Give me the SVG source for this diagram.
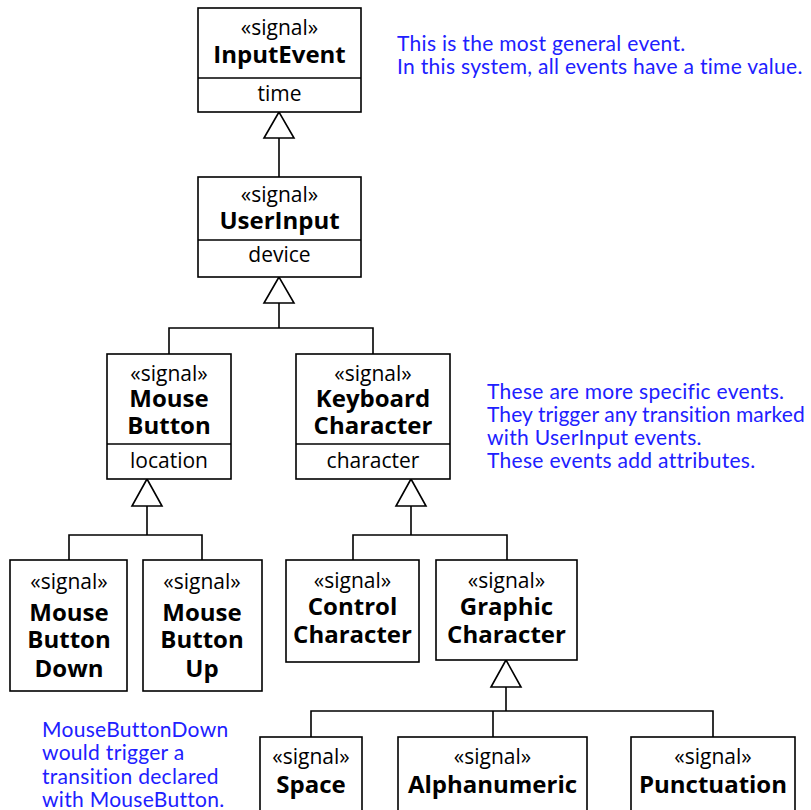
<svg xmlns="http://www.w3.org/2000/svg" width="811" height="810" viewBox="0 0 811 810">
<style>
.box{fill:#fff;stroke:#000;stroke-width:1.6}
.ln{fill:none;stroke:#000;stroke-width:1.6}
.tri{fill:#fff;stroke:#000;stroke-width:1.6}
.st{font-family:"Open Sans","Noto Sans",sans-serif;font-size:21px;text-anchor:middle;fill:#000}
.nm{font-family:"Open Sans","Noto Sans",sans-serif;font-size:24px;font-weight:bold;text-anchor:middle;fill:#000}
.at{font-family:"Open Sans","Noto Sans",sans-serif;font-size:21px;text-anchor:middle;fill:#000}
.note{font-family:Lato,"Liberation Sans",sans-serif;font-size:21px;letter-spacing:0.3px;fill:#2020ff}
</style>
<rect width="811" height="810" fill="#fff"/>
<g id="connectors">
<polygon class="tri" points="279,112 264,138 294,138"/>
<line class="ln" x1="279" y1="138" x2="279" y2="177"/>
<polygon class="tri" points="279,277 264,303 294,303"/>
<polyline class="ln" points="279,303 279,328"/>
<polyline class="ln" points="169,354 169,328 373,328 373,354"/>
<polygon class="tri" points="147,479 132,506 162,506"/>
<polyline class="ln" points="147,506 147,535"/>
<polyline class="ln" points="69,560 69,535 202,535 202,560"/>
<polygon class="tri" points="411,479 396,506 426,506"/>
<polyline class="ln" points="411,506 411,535"/>
<polyline class="ln" points="353,560 353,535 507,535 507,560"/>
<polygon class="tri" points="506,660 491,687 521,687"/>
<polyline class="ln" points="506,687 506,711"/>
<polyline class="ln" points="311,737 311,711 713,711 713,737"/>
<line class="ln" x1="493" y1="711" x2="493" y2="737"/>
</g>
<g id="InputEvent">
<rect class="box" x="198" y="8" width="163" height="104"/>
<line class="ln" x1="198" y1="78" x2="361" y2="78"/>
<text class="st" x="279.5" y="35">«signal»</text>
<text class="nm" x="279.5" y="63">InputEvent</text>
<text class="at" x="279.5" y="101">time</text>
</g>
<g id="UserInput">
<rect class="box" x="198" y="177" width="163" height="100"/>
<line class="ln" x1="198" y1="240" x2="361" y2="240"/>
<text class="st" x="279.5" y="202">«signal»</text>
<text class="nm" x="279.5" y="229">UserInput</text>
<text class="at" x="279.5" y="262">device</text>
</g>
<g id="MouseButton">
<rect class="box" x="107" y="354" width="124" height="125"/>
<line class="ln" x1="107" y1="444" x2="231" y2="444"/>
<text class="st" x="169" y="381">«signal»</text>
<text class="nm" x="169" y="407">Mouse</text>
<text class="nm" x="169" y="434">Button</text>
<text class="at" x="169" y="468">location</text>
</g>
<g id="KeyboardCharacter">
<rect class="box" x="296" y="354" width="154" height="125"/>
<line class="ln" x1="296" y1="444" x2="450" y2="444"/>
<text class="st" x="373" y="381">«signal»</text>
<text class="nm" x="373" y="407">Keyboard</text>
<text class="nm" x="373" y="434">Character</text>
<text class="at" x="373" y="468">character</text>
</g>
<g id="MouseButtonDown">
<rect class="box" x="10" y="560" width="117" height="131"/>
<text class="st" x="69" y="589">«signal»</text>
<text class="nm" x="69" y="621">Mouse</text>
<text class="nm" x="69" y="648">Button</text>
<text class="nm" x="69" y="677">Down</text>
</g>
<g id="MouseButtonUp">
<rect class="box" x="143" y="560" width="119" height="131"/>
<text class="st" x="202" y="589">«signal»</text>
<text class="nm" x="202" y="621">Mouse</text>
<text class="nm" x="202" y="648">Button</text>
<text class="nm" x="202" y="677">Up</text>
</g>
<g id="ControlCharacter">
<rect class="box" x="286" y="560" width="133" height="102"/>
<text class="st" x="352.5" y="588">«signal»</text>
<text class="nm" x="352.5" y="615">Control</text>
<text class="nm" x="352.5" y="643">Character</text>
</g>
<g id="GraphicCharacter">
<rect class="box" x="436" y="560" width="141" height="100"/>
<text class="st" x="506.5" y="588">«signal»</text>
<text class="nm" x="506.5" y="615">Graphic</text>
<text class="nm" x="506.5" y="643">Character</text>
</g>
<g id="Space">
<rect class="box" x="260" y="737" width="102" height="80"/>
<text class="st" x="311" y="764">«signal»</text>
<text class="nm" x="311" y="793">Space</text>
</g>
<g id="Alphanumeric">
<rect class="box" x="398" y="737" width="189" height="80"/>
<text class="st" x="492.5" y="764">«signal»</text>
<text class="nm" x="492.5" y="793">Alphanumeric</text>
</g>
<g id="Punctuation">
<rect class="box" x="631" y="737" width="164" height="80"/>
<text class="st" x="713" y="764">«signal»</text>
<text class="nm" x="713" y="793">Punctuation</text>
</g>
<g id="notes">
<text class="note" x="397" y="51">This is the most general event.</text>
<text class="note" x="397" y="74">In this system, all events have a time value.</text>
<text class="note" x="487" y="399">These are more specific events.</text>
<text class="note" x="487" y="422" textLength="318" lengthAdjust="spacing">They trigger any transition marked</text>
<text class="note" x="487" y="445">with UserInput events.</text>
<text class="note" x="487" y="468">These events add attributes.</text>
<text class="note" x="42" y="737">MouseButtonDown</text>
<text class="note" x="42" y="760">would trigger a</text>
<text class="note" x="42" y="784">transition declared</text>
<text class="note" x="42" y="807">with MouseButton.</text>
</g>
</svg>
